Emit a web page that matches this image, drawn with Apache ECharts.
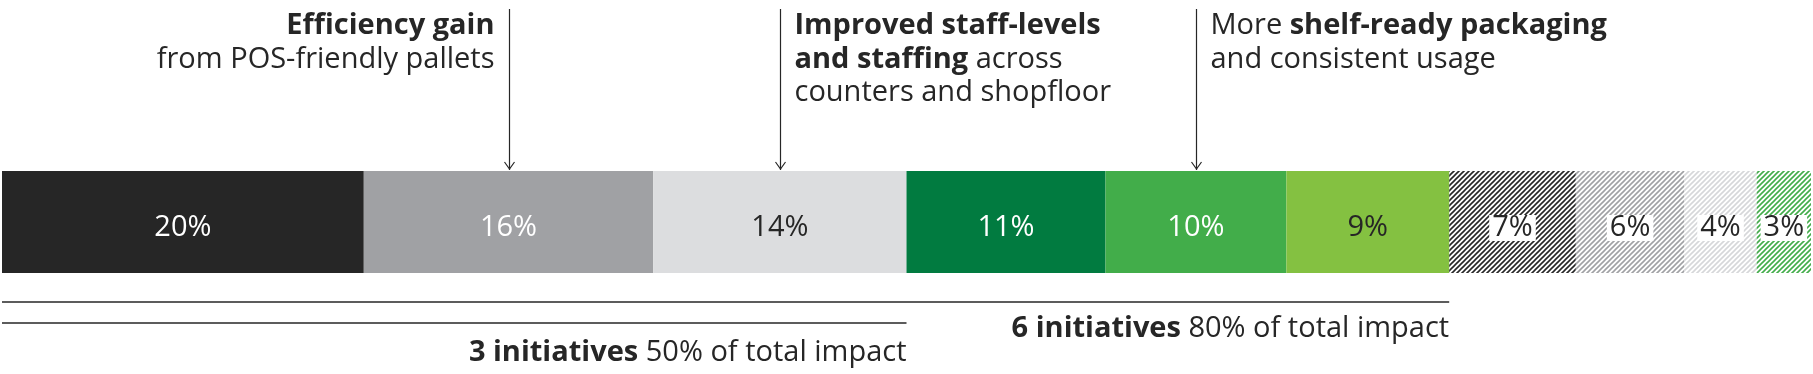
<!DOCTYPE html>
<html><head><meta charset="utf-8">
<script src="https://cdn.jsdelivr.net/npm/echarts@6/dist/echarts.min.js"></script>
<style>html,body{margin:0;padding:0;background:#fff;}#c{width:1813px;height:374px;}</style>
</head><body><div id="c"></div>
<script>
// ---- data ----
const segmentNames = ['Initiative 1','Initiative 2','Initiative 3','Initiative 4','Initiative 5','Initiative 6','Initiative 7','Initiative 8','Initiative 9','Initiative 10'];
const segmentValues = [20, 16, 14, 11, 10, 9, 7, 6, 4, 3];
const annotationTargets = [1, 2, 4];
const annotationTexts = [
  '{b|Efficiency gain}\n{r|from POS-friendly pallets}',
  '{b|Improved staff-levels}\n{b|and staffing}{r| across}\n{r|counters and shopfloor}',
  '{r|More }{b|shelf-ready packaging}\n{r|and consistent usage}'
];
const summaryCounts = [6, 3];
const summaryShares = [80, 50];

// ---- styles ----
const FONT = '"Open Sans", "Noto Sans", sans-serif';
const DARK = '#262626';
const FS = 29;
const fills = ['#262626','#a0a1a4','#dcdddf','#017b40','#42ad4a','#84c141'];
const hatchColors = ['#262626','#a0a1a4','#d6d7d9','#42ad4a'];
const labelColors = ['#fff','#fff','#262626','#fff','#fff','#262626','#262626','#262626','#262626','#262626'];

function hatch(color){
  const s = 5, c = document.createElement('canvas');
  c.width = s; c.height = s;
  const g = c.getContext('2d');
  g.strokeStyle = color; g.lineWidth = 1.6;
  g.beginPath();
  g.moveTo(0, s); g.lineTo(s, 0);
  g.moveTo(-s/2, s/2); g.lineTo(s/2, -s/2);
  g.moveTo(s/2, s*1.5); g.lineTo(s*1.5, s/2);
  g.stroke();
  return {image: c, repeat: 'repeat'};
}

const chart = echarts.init(document.getElementById('c'), null, {renderer: 'canvas'});
const series = segmentValues.map((v, i) => {
  const hatched = i >= fills.length;
  return {
    type: 'bar', name: segmentNames[i], stack: 'total', barWidth: '100%',
    data: [v], silent: true,
    itemStyle: {color: hatched ? hatch(hatchColors[i - fills.length]) : fills[i]},
    label: {
      show: true, position: 'inside', formatter: '{c}%', offset: [0, 6],
      fontFamily: FONT, fontSize: FS, fontWeight: 'normal', color: labelColors[i],
      backgroundColor: hatched ? '#fff' : 'transparent', padding: hatched ? [0, 3] : 0, lineHeight: 26
    }
  };
});

chart.setOption({
  animation: false,
  grid: {left: 2, right: 2, top: 171, bottom: 101},
  xAxis: {type: 'value', min: 0, max: 100, show: false},
  yAxis: {type: 'category', data: ['impact'], show: false},
  series: series
});

function px(v){ return chart.convertToPixel({xAxisIndex: 0}, v); }
const cum = [0];
segmentValues.forEach((v, i) => cum.push(cum[i] + v));
const barTop = chart.convertToPixel({yAxisIndex: 0}, 'impact') - 51;

const graphics = [];
const richStyles = {
  b: {fontFamily: FONT, fontSize: FS, fontWeight: 'bold', fill: DARK, lineHeight: 33.5},
  r: {fontFamily: FONT, fontSize: FS, fontWeight: 'normal', fill: DARK, lineHeight: 33.5}
};
annotationTargets.forEach((t, k) => {
  const x = Math.round(px((cum[t] + cum[t + 1]) / 2)) + 0.5;
  graphics.push({type: 'line', shape: {x1: x, y1: 9, x2: x, y2: barTop - 1}, style: {stroke: DARK, lineWidth: 1.2}, silent: true});
  graphics.push({type: 'polyline', shape: {points: [[x - 5, barTop - 9], [x, barTop - 2], [x + 5, barTop - 9]]}, style: {stroke: DARK, lineWidth: 1.2, fill: null}, silent: true});
  const right = k === 0;
  graphics.push({type: 'text', x: right ? x - 15 : x + 14, y: 9,
    style: {text: annotationTexts[k], rich: richStyles, align: right ? 'right' : 'left', verticalAlign: 'top',
      fontFamily: FONT, fontSize: FS, fill: DARK}, silent: true});
});

const lineYs = [302, 323];
const textYs = [329, 353];
summaryCounts.forEach((n, k) => {
  const xEnd = px(cum[n]);
  graphics.push({type: 'line', shape: {x1: px(0), y1: lineYs[k], x2: xEnd, y2: lineYs[k]}, style: {stroke: DARK, lineWidth: 1.4}, silent: true});
  graphics.push({type: 'text', x: xEnd, y: textYs[k],
    style: {text: '{b|' + n + ' initiatives}{r| ' + summaryShares[k] + '% of total impact}', rich: richStyles,
      align: 'right', verticalAlign: 'middle', fontFamily: FONT, fontSize: FS, fill: DARK}, silent: true});
});

chart.setOption({graphic: graphics});
</script></body></html>
